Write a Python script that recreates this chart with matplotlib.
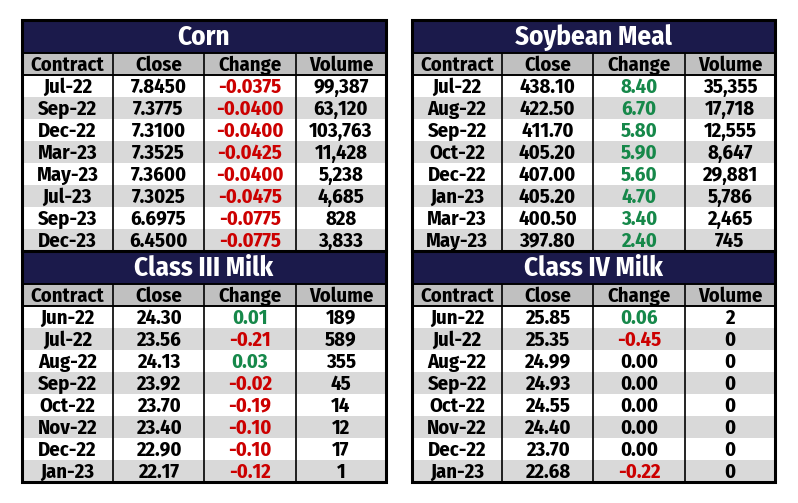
import matplotlib
matplotlib.use('Agg')
import matplotlib.pyplot as plt
from matplotlib import font_manager
from matplotlib.patches import Rectangle

# ---- data ----
corn_contracts = ['Jul-22', 'Sep-22', 'Dec-22', 'Mar-23', 'May-23', 'Jul-23', 'Sep-23', 'Dec-23']
corn_close = [7.8450, 7.3775, 7.3100, 7.3525, 7.3600, 7.3025, 6.6975, 6.4500]
corn_change = [-0.0375, -0.0400, -0.0400, -0.0425, -0.0400, -0.0475, -0.0775, -0.0775]
corn_volume = [99387, 63120, 103763, 11428, 5238, 4685, 828, 3833]

meal_contracts = ['Jul-22', 'Aug-22', 'Sep-22', 'Oct-22', 'Dec-22', 'Jan-23', 'Mar-23', 'May-23']
meal_close = [438.10, 422.50, 411.70, 405.20, 407.00, 405.20, 400.50, 397.80]
meal_change = [8.40, 6.70, 5.80, 5.90, 5.60, 4.70, 3.40, 2.40]
meal_volume = [35355, 17718, 12555, 8647, 29881, 5786, 2465, 745]

milk3_contracts = ['Jun-22', 'Jul-22', 'Aug-22', 'Sep-22', 'Oct-22', 'Nov-22', 'Dec-22', 'Jan-23']
milk3_close = [24.30, 23.56, 24.13, 23.92, 23.70, 23.40, 22.90, 22.17]
milk3_change = [0.01, -0.21, 0.03, -0.02, -0.19, -0.10, -0.10, -0.12]
milk3_volume = [189, 589, 355, 45, 14, 12, 17, 1]

milk4_contracts = ['Jun-22', 'Jul-22', 'Aug-22', 'Sep-22', 'Oct-22', 'Nov-22', 'Dec-22', 'Jan-23']
milk4_close = [25.85, 25.35, 24.99, 24.93, 24.55, 24.40, 23.70, 22.68]
milk4_change = [0.06, -0.45, 0.00, 0.00, 0.00, 0.00, 0.00, -0.22]
milk4_volume = [2, 0, 0, 0, 0, 0, 0, 0]

headers = ['Contract', 'Close', 'Change', 'Volume']

NAVY = '#1b1a4b'
HEAD_GRAY = '#c0c0c0'
STRIPE = '#d9d9d9'
RED = '#cc0000'
GREEN = '#16884a'

# pick a condensed font if one is there
names = {f.name for f in font_manager.fontManager.ttflist}
FONT = 'DejaVu Sans'
STRETCH = 'normal'
for cand in ['Fira Sans Condensed', 'Roboto Condensed', 'Open Sans Condensed',
             'Liberation Sans Narrow', 'Noto Sans Condensed', 'DejaVu Sans Condensed']:
    if cand in names:
        FONT = cand
        break
else:
    for f in font_manager.fontManager.ttflist:
        if f.name == 'DejaVu Sans' and f.stretch == 'condensed':
            STRETCH = 'condensed'
            break

CELL_FS = 14.8
TITLE_FS = 19.5


def draw_table(ax, title, contracts, close, change, volume, decimals, xs, top):
    title_h = 33
    row_h = 22
    x0, x1 = xs[0], xs[-1]
    # title
    ax.add_patch(Rectangle((x0, top), x1 - x0, title_h, color=NAVY, lw=0))
    ax.text((x0 + x1) / 2, top + title_h / 2 + 1, title, color='white', fontsize=TITLE_FS,
            fontweight='bold', family=FONT, stretch=STRETCH, ha='center', va='center')
    y = top + title_h
    # header
    ax.add_patch(Rectangle((x0, y), x1 - x0, row_h, color=HEAD_GRAY, lw=0))
    for i, h in enumerate(headers):
        ax.text((xs[i] + xs[i + 1]) / 2, y + row_h / 2 + 1, h, color='black', fontsize=CELL_FS,
                fontweight='bold', family=FONT, stretch=STRETCH, ha='center', va='center')
    y_head = y
    y += row_h
    for r in range(len(contracts)):
        if r % 2 == 1:
            ax.add_patch(Rectangle((x0, y), x1 - x0, row_h, color=STRIPE, lw=0))
        ch = change[r]
        col = RED if ch < 0 else (GREEN if ch > 0 else 'black')
        cells = [contracts[r], f'{close[r]:.{decimals}f}', f'{ch:.{decimals}f}', f'{volume[r]:,}']
        colors = ['black', 'black', col, 'black']
        for i, txt in enumerate(cells):
            ax.text((xs[i] + xs[i + 1]) / 2, y + row_h / 2 + 1, txt, color=colors[i],
                    fontsize=CELL_FS, fontweight='bold', family=FONT, stretch=STRETCH,
                    ha='center', va='center')
        y += row_h
    bottom = y
    # lines
    for xv in xs[1:-1]:
        ax.plot([xv, xv], [y_head, bottom], color='black', lw=1.2, solid_capstyle='butt')
    ax.plot([x0, x1], [top + title_h, top + title_h], color='black', lw=1.4)
    ax.plot([x0, x1], [y_head + row_h, y_head + row_h], color='black', lw=1.4)
    return bottom


fig = plt.figure(figsize=(7.98, 5.03), dpi=100)
ax = fig.add_axes([0, 0, 1, 1])
ax.set_xlim(0, 798)
ax.set_ylim(503, 0)
ax.axis('off')

left_xs = [22, 113, 204, 296, 386]
right_xs = [412, 502, 593, 685, 775]

b1 = draw_table(ax, 'Corn', corn_contracts, corn_close, corn_change, corn_volume, 4, left_xs, 20)
b2 = draw_table(ax, 'Class III Milk', milk3_contracts, milk3_close, milk3_change, milk3_volume, 2, left_xs, b1)
b3 = draw_table(ax, 'Soybean Meal', meal_contracts, meal_close, meal_change, meal_volume, 2, right_xs, 20)
b4 = draw_table(ax, 'Class IV Milk', milk4_contracts, milk4_close, milk4_change, milk4_volume, 2, right_xs, b3)

# outer borders and the line between the two stacked tables
for xs, mid, bot in [(left_xs, b1, b2), (right_xs, b3, b4)]:
    ax.add_patch(Rectangle((xs[0], 20), xs[-1] - xs[0], bot - 20, fill=False,
                           edgecolor='black', lw=2.2))
    ax.plot([xs[0], xs[-1]], [mid, mid], color='black', lw=2.2)

fig.savefig('out.png', dpi=100)
